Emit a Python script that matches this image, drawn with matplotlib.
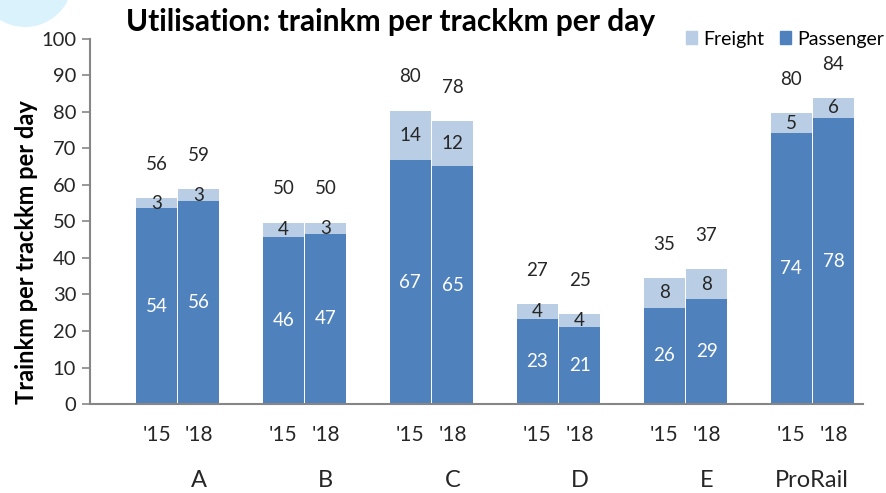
import matplotlib.pyplot as plt
from matplotlib.patches import Ellipse
from matplotlib.patches import Patch

plt.rcParams['font.family'] = ['Lato', 'DejaVu Sans']

groups = ['A', 'B', 'C', 'D', 'E', 'ProRail']
years = ["'15", "'18"]
passenger = [53.6, 55.7, 45.8, 46.6, 66.8, 65.2, 23.3, 21.0, 26.4, 28.7, 74.3, 78.3]
freight = [2.8, 3.1, 3.9, 3.1, 13.6, 12.4, 4.0, 3.6, 8.2, 8.3, 5.3, 5.6]

dark = '#4F81BD'
light = '#B9CDE5'
txt = '#262626'
grey = '#868686'


def main():
    fig = plt.figure(figsize=(8.87, 4.93), dpi=100)
    ax = fig.add_axes([0.1015, 0.1805, 0.8715, 0.7405])

    # decorative circle in the top-left corner
    fig.patches.append(Ellipse((25 / 887, 1 + 20.7 / 493), 2 * 47.7 / 887, 2 * 47.7 / 493,
                               transform=fig.transFigure, facecolor='#DAF2FC',
                               edgecolor='none', zorder=0))

    xs = []
    for g in range(len(groups)):
        xs.append(3 * g + 1)
        xs.append(3 * g + 2)

    ax.bar(xs, passenger, width=0.97, color=dark, zorder=2)
    ax.bar(xs, freight, width=0.97, bottom=passenger, color=light, zorder=2)

    for x, p, f in zip(xs, passenger, freight):
        ax.text(x, p / 2, str(round(p)), ha='center', va='center', color='white', fontsize=13.5)
        ax.text(x, p + f / 2, str(round(f)), ha='center', va='center', color=txt, fontsize=13.5)
        ax.text(x, p + f + 9.2, str(round(p + f)), ha='center', va='center', color=txt, fontsize=13.5)

    ax.set_xlim(-0.57, 17.7)
    ax.set_ylim(0, 100)
    ax.set_yticks(range(0, 101, 10))
    ax.tick_params(axis='y', length=6, width=1.2, color=grey, labelsize=14.5, labelcolor=txt, pad=4)

    ax.set_xticks(xs)
    ax.set_xticklabels(years * len(groups))
    ax.tick_params(axis='x', length=0, labelsize=15, labelcolor=txt, pad=15)

    for g, name in enumerate(groups):
        gx = 3 * g + 2 if name != 'ProRail' else 3 * g + 1.5
        ax.text(gx, -0.21, name, transform=ax.get_xaxis_transform(), ha='center', va='center',
                fontsize=17, color=txt)

    for s in ['top', 'right']:
        ax.spines[s].set_visible(False)
    ax.spines['left'].set_color(grey)
    ax.spines['bottom'].set_color(grey)
    ax.spines['left'].set_linewidth(1.5)
    ax.spines['bottom'].set_linewidth(1.5)

    fig.text(27 / 887, 1 - 252 / 493, 'Trainkm per trackkm per day', rotation=90, ha='center', va='center',
             fontsize=17, fontweight='bold', color='black')
    fig.text(391 / 887, 1 - 22 / 493, 'Utilisation: trainkm per trackkm per day', ha='center', va='center',
             fontsize=21.5, fontweight='bold', color='black')

    handles = [Patch(color=light), Patch(color=dark)]
    fig.legend(handles, ['Freight', 'Passenger'], loc='center right', bbox_to_anchor=(884 / 887, 1 - 39 / 493),
               ncol=2, frameon=False, fontsize=14, handlelength=0.6, handleheight=0.6,
               handletextpad=0.3, columnspacing=0.8, borderaxespad=0, borderpad=0)

    fig.savefig('out.png', dpi=100)


if __name__ == "__main__":
    main()
